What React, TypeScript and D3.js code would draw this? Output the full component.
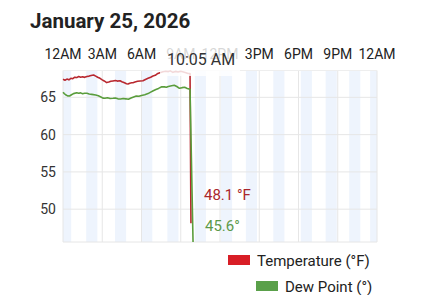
import React from "react";
import * as d3 from "d3";

const hourTicks = [0, 3, 6, 9, 12, 15, 18, 21, 24];
const hourLabels = ["12AM", "3AM", "6AM", "9AM", "12PM", "3PM", "6PM", "9PM", "12AM"];
const yTicks = [50, 55, 60, 65];
const bandCenters = [0.2, 2.2, 4.4, 6.4, 8.4, 10.5, 12.5, 14.4, 16.5, 18.6, 20.5, 22.3, 23.9];

const tempHours = [0, 0.15, 0.3, 0.45, 0.6, 0.75, 0.9, 1.05, 1.2, 1.35, 1.5, 1.65, 1.83, 2.0, 2.15, 2.34, 2.5, 2.65, 2.83, 3.0, 3.15, 3.34, 3.5, 3.65, 3.82, 4.0, 4.15, 4.36, 4.5, 4.7, 4.85, 4.97, 5.1, 5.25, 5.35, 5.5, 5.7, 5.9, 6.11, 6.3, 6.5, 6.7, 6.88, 7.05, 7.2, 7.41, 7.64, 7.85, 8.05, 8.2, 8.4, 8.6, 8.8, 9.0, 9.2, 9.4, 9.55, 9.71, 9.78];
const tempValues = [67.42, 67.3, 67.45, 67.35, 67.55, 67.5, 67.7, 67.65, 67.8, 67.7, 67.75, 67.68, 67.8, 67.85, 67.92, 68.0, 67.85, 67.7, 67.55, 67.35, 67.2, 66.98, 67.05, 67.15, 67.2, 67.25, 67.18, 67.23, 67.1, 66.95, 66.82, 66.79, 66.9, 66.95, 66.96, 67.05, 67.15, 67.2, 67.23, 67.4, 67.55, 67.7, 67.86, 67.95, 68.15, 68.3, 68.44, 68.5, 68.45, 68.55, 68.35, 68.48, 68.4, 68.5, 68.4, 68.3, 68.2, 68.2, 48.1];

const dewHours = [0, 0.1, 0.2, 0.35, 0.5, 0.65, 0.8, 1.05, 1.2, 1.35, 1.5, 1.65, 1.83, 2.0, 2.2, 2.5, 2.7, 2.9, 3.05, 3.2, 3.4, 3.6, 3.82, 4.0, 4.2, 4.4, 4.6, 4.8, 5.0, 5.2, 5.4, 5.6, 5.8, 6.0, 6.25, 6.5, 6.7, 6.9, 7.1, 7.3, 7.55, 7.75, 7.9, 8.05, 8.3, 8.5, 8.7, 8.9, 9.1, 9.3, 9.5, 9.71, 9.94];
const dewValues = [65.68, 65.5, 65.35, 65.2, 65.18, 65.35, 65.5, 65.62, 65.55, 65.6, 65.48, 65.55, 65.54, 65.45, 65.4, 65.31, 65.2, 65.05, 64.9, 64.87, 64.95, 64.85, 64.87, 64.9, 64.8, 64.78, 64.85, 64.8, 64.74, 64.9, 65.05, 65.18, 65.15, 65.25, 65.35, 65.5, 65.7, 65.89, 66.05, 66.2, 66.43, 66.4, 66.35, 66.45, 66.55, 66.62, 66.45, 66.21, 66.3, 66.35, 66.2, 66.08, 45.6];

const title = "January 25, 2026";
const timeLabel = "10:05 AM";
const tempLabel = "48.1 °F";
const dewLabel = "45.6°";
const legendTemp = "Temperature (°F)";
const legendDew = "Dew Point (°)";

const W = 440, H = 295;
const L = 63, R = 377, T = 70.5, B = 242;

export default function App() {
  const x = d3.scaleLinear().domain([0, 24]).range([L, R]);
  const y = d3.scaleLinear().domain([45.6, 68.6]).range([B, T]);
  const line = d3.line<[number, number]>().x(d => x(d[0])).y(d => y(d[1]));
  const tempPts = tempHours.map((h, i) => [h, tempValues[i]] as [number, number]);
  const dewPts = dewHours.map((h, i) => [h, dewValues[i]] as [number, number]);
  const font = "Roboto, 'Noto Sans', sans-serif";
  const bw = 0.85;
  return (
    <svg width={W} height={H} style={{ position: "absolute", left: 0, top: 0, background: "#fff" }} fontFamily={font}>
      <text x={30} y={28} fontSize={20.5} fontWeight={700} fill="#222">{title}</text>
      <defs>
        <clipPath id="plot"><rect x={L} y={T} width={R - L} height={B - T} /></clipPath>
      </defs>
      <g clipPath="url(#plot)">
        {bandCenters.map((c, i) => (
          <rect key={i} x={x(c - bw / 2)} y={T} width={x(bw) - x(0)} height={B - T} fill="#eef4fd" />
        ))}
      </g>
      {yTicks.map(v => (
        <line key={v} x1={L} x2={R} y1={y(v)} y2={y(v)} stroke="#e6e6e6" strokeWidth={1} />
      ))}
      {hourTicks.map(h => (
        <line key={h} x1={x(h)} x2={x(h)} y1={T} y2={B} stroke="#e6e6e6" strokeWidth={1} />
      ))}
      <line x1={L} x2={R} y1={T} y2={T} stroke="#eeeeee" />
      <line x1={L} x2={R} y1={B} y2={B} stroke="#e6e6e6" />
      {yTicks.map(v => (
        <text key={v} x={56} y={y(v) + 5} fontSize={14} textAnchor="end" fill="#333">{v}</text>
      ))}
      {hourTicks.map((h, i) => (
        <text key={i} x={x(h)} y={59} fontSize={14} textAnchor="middle" fill="#222">{hourLabels[i]}</text>
      ))}
      <path d={line(tempPts) || ""} fill="none" stroke="#b8272e" strokeWidth={1.6} strokeLinejoin="round" />
      <path d={line(dewPts) || ""} fill="none" stroke="#5a9d3c" strokeWidth={1.6} strokeLinejoin="round" />
      <rect x={160} y={44} width={80} height={32} fill="#fff" opacity={0.82} />
      <text x={201} y={65} fontSize={16} textAnchor="middle" fill="#333">{timeLabel}</text>
      <text x={204} y={200} fontSize={15} fill="#a9262c">{tempLabel}</text>
      <text x={205} y={231} fontSize={15} fill="#5d9a4a">{dewLabel}</text>
      <rect x={228} y={255} width={22} height={10} fill="#d81e26" />
      <text x={257} y={266} fontSize={15} fill="#222">{legendTemp}</text>
      <rect x={256} y={281} width={22} height={10} fill="#5aa04a" />
      <text x={285} y={292} fontSize={15} fill="#222">{legendDew}</text>
    </svg>
  );
}
